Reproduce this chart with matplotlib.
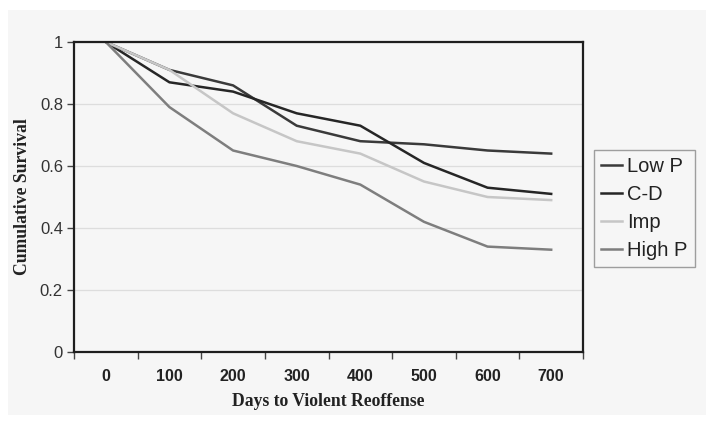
import matplotlib
matplotlib.use("Agg")
import matplotlib.pyplot as plt
from matplotlib.patches import Rectangle

days = [0, 100, 200, 300, 400, 500, 600, 700]
low_p = [1.0, 0.91, 0.86, 0.73, 0.68, 0.67, 0.65, 0.64]
c_d = [1.0, 0.87, 0.84, 0.77, 0.73, 0.61, 0.53, 0.51]
imp = [1.0, 0.91, 0.77, 0.68, 0.64, 0.55, 0.50, 0.49]
high_p = [1.0, 0.79, 0.65, 0.60, 0.54, 0.42, 0.34, 0.33]
series_names = ["Low P", "C-D", "Imp", "High P"]
y_ticks = [0, 0.2, 0.4, 0.6, 0.8, 1]
y_tick_labels = ["0", "0.2", "0.4", "0.6", "0.8", "1"]

W, H = 714, 424
fig = plt.figure(figsize=(W / 100, H / 100), dpi=100, facecolor="white")
bg = "#f6f6f6"
fig.patches.append(Rectangle((8 / W, 1 - 415 / H), (706 - 8) / W, (415 - 10) / H,
                             transform=fig.transFigure, facecolor=bg, edgecolor="none", zorder=-10))

ax = fig.add_axes([74 / W, 1 - 352 / H, (583 - 74) / W, (352 - 42) / H])
ax.set_facecolor(bg)

x = list(range(len(days)))
colors = ["#3a3a3a", "#262626", "#c6c6c6", "#7e7e7e"]
for vals, name, col in zip([low_p, c_d, imp, high_p], series_names, colors):
    ax.plot(x, vals, color=col, lw=1.8, label=name, solid_joinstyle="round")

ax.set_xlim(-0.5, len(days) - 0.5)
ax.set_ylim(0, 1)
ax.set_yticks(y_ticks)
ax.set_yticklabels(y_tick_labels)
for t in ax.get_yticklabels():
    t.set_fontfamily("Liberation Sans")
    t.set_fontsize(12)
    t.set_color("#333333")
ax.set_xticks([i - 0.5 for i in range(len(days) + 1)])
ax.set_xticklabels([])
ax.set_xticks(x, minor=True)
ax.set_xticklabels([str(d) for d in days], minor=True)
for t in ax.get_xticklabels(minor=True):
    t.set_fontfamily("Liberation Sans")
    t.set_fontweight("bold")
    t.set_fontsize(11.5)
    t.set_color("#222222")
ax.tick_params(axis="x", which="minor", length=0, pad=12)
ax.tick_params(axis="x", which="major", length=5, width=1, color="#444444", direction="out")
ax.tick_params(axis="y", length=5, width=1, color="#444444", direction="out", pad=3)
ax.grid(axis="y", color="#dddddd", lw=0.9)
ax.set_axisbelow(True)
for s in ax.spines.values():
    s.set_color("#1e1e1e")
    s.set_linewidth(1.6)

ax.set_xlabel("Days to Violent Reoffense", fontfamily="Liberation Serif", fontweight="bold",
              fontsize=12.7, color="#222222", labelpad=7)
ax.set_ylabel("Cumulative Survival", fontfamily="Liberation Serif", fontweight="bold",
              fontsize=12.7, color="#222222", labelpad=6)

leg = ax.legend(loc="upper left", bbox_to_anchor=(594 / W, 1 - 150 / H), bbox_transform=fig.transFigure,
                borderaxespad=0, frameon=True, fancybox=False, handlelength=1.05, handletextpad=0.25,
                labelspacing=0.45, borderpad=0.35, prop={"family": "Liberation Sans", "size": 14.5})
leg.get_frame().set_edgecolor("#888888")
leg.get_frame().set_facecolor(bg)
leg.get_frame().set_linewidth(1.0)
for t in leg.get_texts():
    t.set_color("#222222")

fig.savefig("out.png", dpi=100, facecolor="white")
